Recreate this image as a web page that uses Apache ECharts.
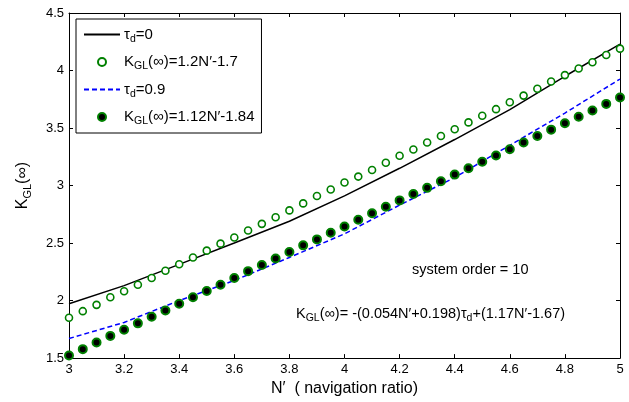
<!DOCTYPE html>
<html>
<head>
<meta charset="utf-8">
<script src="https://cdn.jsdelivr.net/npm/echarts@6/dist/echarts.min.js"></script>
<style>
  html, body { margin: 0; padding: 0; background: #fff; }
  #chart { width: 629px; height: 402px; }
</style>
</head>
<body>
<div id="chart"></div>
<script>
// 曲线的 N' 取值
const lineN = [3, 3.2, 3.4, 3.6, 3.8, 4, 4.2, 4.4, 4.6, 4.8, 5];
const tau0 = [1.972, 2.13, 2.315, 2.5, 2.69, 2.91, 3.15, 3.4, 3.66, 3.95, 4.23];
const tau09 = [1.67, 1.81, 2.0, 2.175, 2.375, 2.58, 2.83, 3.07, 3.35, 3.63, 3.926];

// 圆点的 N' 取值
const dotN = [3, 3.05, 3.1, 3.15, 3.2, 3.25, 3.3, 3.35, 3.4, 3.45, 3.5, 3.55, 3.6, 3.65,
  3.7, 3.75, 3.8, 3.85, 3.9, 3.95, 4, 4.05, 4.1, 4.15, 4.2, 4.25, 4.3, 4.35, 4.4,
  4.45, 4.5, 4.55, 4.6, 4.65, 4.7, 4.75, 4.8, 4.85, 4.9, 4.95, 5];
const fitA = [1.851, 1.908, 1.963, 2.029, 2.081, 2.138, 2.196, 2.259, 2.316, 2.374,
  2.434, 2.495, 2.549, 2.609, 2.667, 2.724, 2.784, 2.845, 2.909, 2.966, 3.026,
  3.078, 3.135, 3.198, 3.259, 3.314, 3.374, 3.431, 3.489, 3.549, 3.607, 3.664,
  3.724, 3.782, 3.842, 3.905, 3.96, 4.017, 4.072, 4.135, 4.19];
const fitB = [1.523, 1.578, 1.635, 1.693, 1.747, 1.802, 1.859, 1.914, 1.972, 2.029,
  2.084, 2.138, 2.196, 2.256, 2.31, 2.366, 2.422, 2.48, 2.532, 2.59, 2.644,
  2.702, 2.759, 2.816, 2.871, 2.926, 2.98, 3.038, 3.095, 3.15, 3.207, 3.262,
  3.316, 3.374, 3.431, 3.486, 3.541, 3.598, 3.653, 3.71, 3.765];

const seriesNames = ["τd=0", "KGL(∞)=1.2N′-1.7", "τd=0.9", "KGL(∞)=1.12N′-1.84"];
const xTicks = { min: 3, max: 5, interval: 0.2 };
const yTicks = { min: 1.5, max: 4.5, interval: 0.5 };

const FONT = "Liberation Sans";
const GREEN = "#008000";

// 下标用的富文本样式
const makeRich = (size, subSize) => ({
  n: { fontSize: size, fontFamily: FONT, color: "#000", lineHeight: 20 },
  s: { fontSize: subSize, fontFamily: FONT, color: "#000", lineHeight: 12, verticalAlign: "bottom" },
});
const toRich = (str) =>
  "{n|" + str.replace("τd", "τ}{s|d}{n|").replace("KGL", "K}{s|GL}{n|") + "}";

const pairs = (xs, ys) => xs.map((x, i) => [x, ys[i]]);

const mChart = echarts.init(document.getElementById("chart"));

const axisCommon = {
  type: "value",
  axisLine: { show: true, onZero: false, lineStyle: { color: "#000", width: 1 } },
  axisTick: { show: true, inside: true, length: 4, lineStyle: { color: "#000" } },
  splitLine: { show: false },
};

const options = {
  animation: false,
  backgroundColor: "#fff",
  grid: { left: 69, right: 9, top: 13, bottom: 41, containLabel: false },
  xAxis: [
    {
      ...axisCommon,
      ...xTicks,
      position: "bottom",
      axisLabel: { color: "#000", fontSize: 13, fontFamily: FONT, margin: 5 },
      name: "N′  ( navigation ratio)",
      nameLocation: "middle",
      nameGap: 19,
      nameTextStyle: { color: "#000", fontSize: 16, fontFamily: FONT },
    },
    { ...axisCommon, ...xTicks, position: "top", axisLabel: { show: false } },
  ],
  yAxis: [
    {
      ...axisCommon,
      ...yTicks,
      position: "left",
      axisLabel: { color: "#000", fontSize: 13, fontFamily: FONT, margin: 5 },
      name: "{n|K}{s|GL}{n|(∞)}",
      nameLocation: "middle",
      nameGap: 36,
      nameRotate: 90,
      nameTextStyle: { rich: makeRich(16, 11) },
    },
    { ...axisCommon, ...yTicks, position: "right", axisLabel: { show: false } },
  ],
  legend: {
    orient: "vertical",
    left: 76,
    top: 19,
    padding: [8, 7, 6, 7],
    itemGap: 10,
    itemWidth: 36,
    itemHeight: 8,
    backgroundColor: "#fff",
    borderColor: "#000",
    borderWidth: 1,
    data: [
      { name: seriesNames[0], itemStyle: { opacity: 0 } },
      { name: seriesNames[1] },
      { name: seriesNames[2], itemStyle: { opacity: 0 } },
      { name: seriesNames[3] },
    ],
    formatter: toRich,
    textStyle: { rich: makeRich(15, 10.5), padding: [0, 0, 0, -1] },
  },
  series: [
    {
      name: seriesNames[0],
      type: "line",
      data: pairs(lineN, tau0),
      symbol: "none",
      lineStyle: { color: "#000", width: 1.5 },
      itemStyle: { color: "#000" },
      z: 2,
    },
    {
      name: seriesNames[1],
      type: "scatter",
      data: pairs(dotN, fitA),
      symbol: "circle",
      symbolSize: 7,
      itemStyle: { color: "#fff", borderColor: GREEN, borderWidth: 1.6, opacity: 1 },
      z: 3,
    },
    {
      name: seriesNames[2],
      type: "line",
      data: pairs(lineN, tau09),
      symbol: "none",
      lineStyle: { color: "#0000ff", width: 1.5, type: [5, 3] },
      itemStyle: { color: "#0000ff" },
      z: 2,
    },
    {
      name: seriesNames[3],
      type: "scatter",
      data: pairs(dotN, fitB),
      symbol: "circle",
      symbolSize: 8,
      itemStyle: { color: "#000", borderColor: GREEN, borderWidth: 2, opacity: 1 },
      z: 3,
    },
  ],
  graphic: [
    {
      type: "text",
      left: 412,
      top: 262,
      style: { text: "system order = 10", fontSize: 14.5, fontFamily: FONT, fill: "#000" },
    },
    {
      type: "text",
      left: 296,
      top: 306,
      style: {
        text:
          "{n|K}{s|GL}{n|(∞)= -(0.054N′+0.198)τ}{s|d}{n|+(1.17N′-1.67)}",
        rich: makeRich(14.5, 10.5),
      },
    },
  ],
};
mChart.setOption(options);
</script>
</body>
</html>
